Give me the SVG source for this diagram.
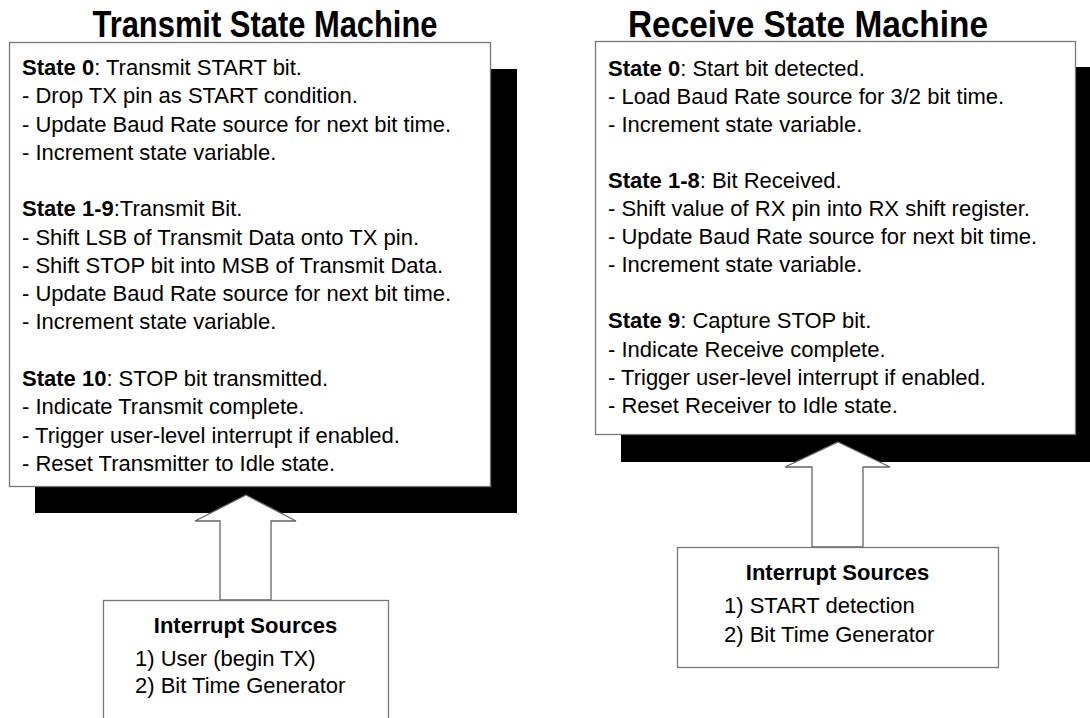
<svg xmlns="http://www.w3.org/2000/svg" width="1090" height="718" viewBox="0 0 1090 718">
<style>
text{font-family:"Liberation Sans",Arial,sans-serif;fill:#000}
.title{font-size:36px;font-weight:bold}
.body{font-size:22px}
.b{font-weight:bold}
.box{fill:#fff;stroke:#777;stroke-width:1.3}
.shadow{fill:#000}
.arrow{fill:#fff;stroke:#666;stroke-width:1.3}
</style>
<rect width="1090" height="718" fill="#fff"/>
<g id="title-tx"><text class="title" x="265" y="37" text-anchor="middle" textLength="345" lengthAdjust="spacingAndGlyphs">Transmit State Machine</text></g>
<g id="title-rx"><text class="title" x="808" y="37" text-anchor="middle" textLength="360" lengthAdjust="spacingAndGlyphs">Receive State Machine</text></g>

<g id="tx-states">
<rect class="shadow" x="35" y="69" width="482" height="444"/>
<rect class="box" x="9.5" y="42.5" width="481" height="444"/>
<text class="body" x="22" y="75"><tspan class="b">State 0</tspan>: Transmit START bit.</text>
<text class="body" x="22" y="103.3">- Drop TX pin as START condition.</text>
<text class="body" x="22" y="131.6">- Update Baud Rate source for next bit time.</text>
<text class="body" x="22" y="159.9">- Increment state variable.</text>
<text class="body" x="22" y="216.2"><tspan class="b">State 1-9</tspan>:Transmit Bit.</text>
<text class="body" x="22" y="244.5">- Shift LSB of Transmit Data onto TX pin.</text>
<text class="body" x="22" y="272.8">- Shift STOP bit into MSB of Transmit Data.</text>
<text class="body" x="22" y="301.1">- Update Baud Rate source for next bit time.</text>
<text class="body" x="22" y="329.4">- Increment state variable.</text>
<text class="body" x="22" y="386"><tspan class="b">State 10</tspan>: STOP bit transmitted.</text>
<text class="body" x="22" y="414.3">- Indicate Transmit complete.</text>
<text class="body" x="22" y="442.6">- Trigger user-level interrupt if enabled.</text>
<text class="body" x="22" y="470.9">- Reset Transmitter to Idle state.</text>
</g>

<g id="rx-states">
<rect class="shadow" x="621" y="67" width="480" height="395"/>
<rect class="box" x="595.5" y="41.5" width="480" height="393"/>
<text class="body" x="608" y="75.5"><tspan class="b">State 0</tspan>: Start bit detected.</text>
<text class="body" x="608" y="103.6">- Load Baud Rate source for 3/2 bit time.</text>
<text class="body" x="608" y="131.7">- Increment state variable.</text>
<text class="body" x="608" y="187.9"><tspan class="b">State 1-8</tspan>: Bit Received.</text>
<text class="body" x="608" y="216">- Shift value of RX pin into RX shift register.</text>
<text class="body" x="608" y="244.1">- Update Baud Rate source for next bit time.</text>
<text class="body" x="608" y="272.2">- Increment state variable.</text>
<text class="body" x="608" y="328.4"><tspan class="b">State 9</tspan>: Capture STOP bit.</text>
<text class="body" x="608" y="356.5">- Indicate Receive complete.</text>
<text class="body" x="608" y="384.6">- Trigger user-level interrupt if enabled.</text>
<text class="body" x="608" y="412.7">- Reset Receiver to Idle state.</text>
</g>

<g id="connectors">
<polygon class="arrow" points="246,495 296,521 271,521 271,600 220,600 220,521 195,521"/>
<polygon class="arrow" points="838,442 890,467 863,467 863,547 812,547 812,467 785,467"/>
</g>

<g id="tx-interrupts">
<rect class="box" x="103.5" y="600.5" width="285" height="130"/>
<text class="body b" x="245.5" y="633" text-anchor="middle">Interrupt Sources</text>
<text class="body" x="135" y="666">1) User (begin TX)</text>
<text class="body" x="135" y="693">2) Bit Time Generator</text>
</g>

<g id="rx-interrupts">
<rect class="box" x="677.5" y="547.5" width="321" height="120"/>
<text class="body b" x="837.5" y="580" text-anchor="middle">Interrupt Sources</text>
<text class="body" x="724" y="613">1) START detection</text>
<text class="body" x="724" y="642">2) Bit Time Generator</text>
</g>
</svg>
